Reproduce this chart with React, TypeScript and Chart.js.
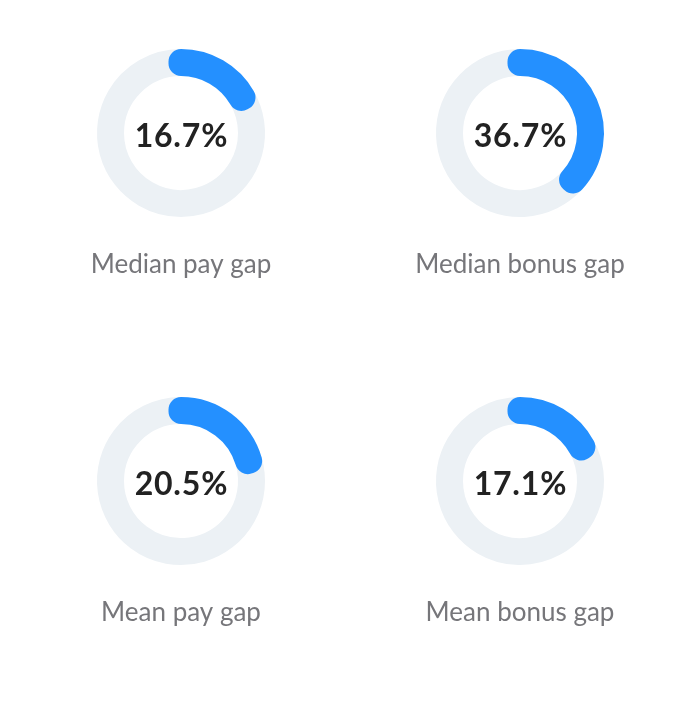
import React, { useEffect, useRef } from "react";
import { Chart, registerables } from "chart.js";

Chart.register(...registerables);

// ---- data ----
const gapLabels: string[] = ["Median pay gap", "Median bonus gap", "Mean pay gap", "Mean bonus gap"];
const gapValues: number[] = [16.7, 36.7, 20.5, 17.1];

// ---- style ----
const BLUE = "#2490FF";
const TRACK = "#ECF1F5";
const LABEL_COLOR = "#76767A";
const VALUE_COLOR = "#222222";

const colCenters = [181, 519.5];
const rowCenters = [132.5, 480.5];

const CANVAS_W = 320;
const CANVAS_H = 243;
const PAD_TOP = 10;

const centerTextPlugin = {
  id: "centerText",
  afterDatasetsDraw(chart: any) {
    const meta = chart.getDatasetMeta(0);
    const arc = meta.data[0];
    if (!arc) return;
    const text: string = chart.options.plugins.centerText.text;
    const ctx = chart.ctx;
    ctx.save();
    ctx.font = "700 32px Lato";
    try {
      (ctx as any).letterSpacing = "0.8px";
    } catch (e) {}
    ctx.fillStyle = VALUE_COLOR;
    ctx.textAlign = "center";
    ctx.textBaseline = "alphabetic";
    ctx.fillText(text, arc.x + 0.4, arc.y + 13.5);
    ctx.restore();
  },
};

function Gauge({ label, value }: { label: string; value: number }) {
  const ref = useRef<HTMLCanvasElement | null>(null);
  useEffect(() => {
    if (!ref.current) return;
    const rest = 100 - value;
    const chart = new Chart(ref.current, {
      type: "doughnut",
      data: {
        labels: ["rest", label],
        datasets: [
          {
            data: [rest, value],
            backgroundColor: [TRACK, BLUE],
            borderColor: [TRACK, BLUE],
            hoverBackgroundColor: [TRACK, BLUE],
            hoverBorderColor: [TRACK, BLUE],
            borderWidth: 25,
            hoverBorderWidth: 25,
            borderJoinStyle: "round",
            borderAlign: "center",
            cutout: 69.5,
            rotation: value * 3.6,
          } as any,
        ],
      },
      options: {
        responsive: false,
        animation: false,
        events: [],
        layout: { padding: { top: PAD_TOP, bottom: 1.4, left: 0, right: 0 } },
        plugins: {
          legend: { display: false },
          tooltip: { enabled: false },
          title: {
            display: true,
            position: "bottom",
            text: label,
            color: LABEL_COLOR,
            font: { family: "Lato", size: 26, weight: "400", lineHeight: 1.2 },
            padding: { top: 32.4, bottom: 0 },
          },
          centerText: { text: value.toFixed(1) + "%" },
        } as any,
      },
      plugins: [centerTextPlugin],
    });
    return () => chart.destroy();
  }, [label, value]);
  return <canvas ref={ref} width={CANVAS_W} height={CANVAS_H} />;
}

export default function App() {
  return (
    <div style={{ position: "absolute", left: 0, top: 0, width: 699, height: 719, background: "#fff" }}>
      {gapLabels.map((label, i) => {
        const cx = colCenters[i % 2];
        const cy = rowCenters[Math.floor(i / 2)];
        return (
          <div
            key={label}
            style={{ position: "absolute", left: cx - CANVAS_W / 2, top: cy - (PAD_TOP + 84), width: CANVAS_W, height: CANVAS_H }}
          >
            <Gauge label={label} value={gapValues[i]} />
          </div>
        );
      })}
    </div>
  );
}
